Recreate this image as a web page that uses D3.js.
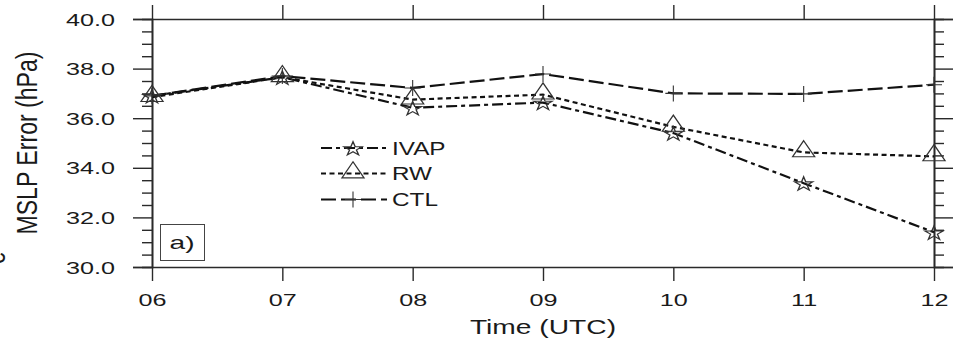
<!DOCTYPE html>
<html>
<head>
<meta charset="utf-8">
<script src="https://cdn.jsdelivr.net/npm/d3@7"></script>
<style>
  body { margin: 0; background: #fff; }
  svg { display: block; font-family: "Liberation Sans", Arial, sans-serif; }
</style>
</head>
<body>
<div id="chart"></div>
<script>
const times = ["06", "07", "08", "09", "10", "11", "12"];
const ivap = [36.9, 37.65, 36.42, 36.63, 35.4, 33.38, 31.4];
const rw = [36.85, 37.65, 36.75, 36.95, 35.65, 34.62, 34.46];
const ctl = [36.9, 37.7, 37.22, 37.78, 37.0, 36.98, 37.35];
const yMajor = [30, 32, 34, 36, 38, 40];
const yMinor = d3.range(30, 40.01, 0.5).filter(v => v % 2 !== 0);

const series = [
    {name: "IVAP", values: ivap, dash: "11,4,4,4", marker: "star"},
    {name: "RW", values: rw, dash: "5,3.5", marker: "triangle"},
    {name: "CTL", values: ctl, dash: "15,5", marker: "plus"}
];

const W = 955, H = 349;
const plot = {left: 152, right: 934, top: 19, bottom: 267};
const stretch = 1.48; // text in the picture is wide

const svg = d3.select("#chart").append("svg")
    .attr("width", W)
    .attr("height", H);

const x = d3.scalePoint().domain(times).range([plot.left, plot.right]);
const y = d3.scaleLinear().domain([30, 40]).range([plot.bottom, plot.top]);

const axisColor = "#2a2a2a";

function styleAxis(g) {
    g.select(".domain").attr("stroke", axisColor).attr("stroke-width", 1.6);
    g.selectAll(".tick line").attr("stroke", axisColor).attr("stroke-width", 1.4);
}

// left axis
svg.append("g")
    .attr("transform", `translate(${plot.left},0)`)
    .call(d3.axisLeft(y).tickValues(yMajor).tickSize(19).tickFormat(d3.format(".1f")))
    .call(styleAxis)
    .call(g => g.selectAll(".tick text")
        .attr("x", null).attr("dy", null)
        .attr("fill", "#1a1a1a")
        .style("font-size", "17px")
        .attr("text-anchor", "end")
        .attr("transform", `translate(-37,6) scale(${stretch},1)`));

svg.append("g")
    .attr("transform", `translate(${plot.left},0)`)
    .call(d3.axisLeft(y).tickValues(yMinor).tickSize(10).tickFormat(""))
    .call(styleAxis);

// right axis
svg.append("g")
    .attr("transform", `translate(${plot.right},0)`)
    .call(d3.axisRight(y).tickValues(yMajor).tickSize(19).tickFormat(""))
    .call(styleAxis);

svg.append("g")
    .attr("transform", `translate(${plot.right},0)`)
    .call(d3.axisRight(y).tickValues(yMinor).tickSize(10).tickFormat(""))
    .call(styleAxis);

// bottom axis
svg.append("g")
    .attr("transform", `translate(0,${plot.bottom})`)
    .call(d3.axisBottom(x).tickSize(14).tickSizeOuter(0))
    .call(styleAxis)
    .call(g => g.selectAll(".tick text")
        .attr("y", null).attr("dy", null)
        .attr("fill", "#1a1a1a")
        .style("font-size", "17px")
        .attr("transform", `translate(0,39) scale(${stretch},1)`));

// top axis
svg.append("g")
    .attr("transform", `translate(0,${plot.top})`)
    .call(d3.axisTop(x).tickSize(14).tickSizeOuter(0).tickFormat(""))
    .call(styleAxis);

// axis titles
svg.append("text")
    .attr("transform", `translate(543,334) scale(1.41,1)`)
    .attr("text-anchor", "middle")
    .style("font-size", "20px")
    .attr("fill", "#1a1a1a")
    .text("Time (UTC)");

svg.append("text")
    .attr("transform", `translate(37,143) rotate(-90) scale(1.05,1.3)`)
    .attr("text-anchor", "middle")
    .style("font-size", "22px")
    .attr("fill", "#1a1a1a")
    .text("MSLP Error (hPa)");

// fragment of a neighbouring label, cut by the left edge
svg.append("text")
    .attr("transform", `translate(5,258) rotate(-90) scale(1,1.3)`)
    .attr("text-anchor", "middle")
    .style("font-size", "22px")
    .attr("fill", "#1a1a1a")
    .text("e");

// markers
function marker(g, type) {
    if (type === "star") {
        g.append("path")
            .attr("d", d3.symbol(d3.symbolStar, 60)())
            .attr("transform", "translate(0,1) scale(1.3,1)");
    } else if (type === "triangle") {
        g.append("path")
            .attr("d", d3.symbol(d3.symbolTriangle, 150)())
            .attr("transform", "translate(0,-1) scale(1.19,1)");
    } else {
        g.append("path").attr("d", "M-8,0H8M0,-8V8");
    }
    g.selectAll("path")
        .attr("fill", "none")
        .attr("stroke", "#333")
        .attr("stroke-width", 1.1);
}

const line = d3.line()
    .x((d, i) => x(times[i]))
    .y(d => y(d));

series.forEach(s => {
    svg.append("path")
        .datum(s.values)
        .attr("fill", "none")
        .attr("stroke", "#111")
        .attr("stroke-width", 2.2)
        .attr("stroke-dasharray", s.dash)
        .attr("d", line);
});

series.forEach(s => {
    svg.selectAll(null)
        .data(s.values)
        .enter().append("g")
        .attr("transform", (d, i) => `translate(${x(times[i])},${y(d)})`)
        .each(function() { marker(d3.select(this), s.marker); });
});

// legend
const legend = svg.append("g");
const legendY = [148, 173.5, 199.5];
series.forEach((s, i) => {
    const row = legend.append("g").attr("transform", `translate(0,${legendY[i]})`);
    row.append("line")
        .attr("x1", 321).attr("x2", 387)
        .attr("stroke", "#111")
        .attr("stroke-width", 2)
        .attr("stroke-dasharray", s.dash);
    const m = row.append("g").attr("transform", "translate(353,0)");
    marker(m, s.marker);
    row.append("text")
        .attr("transform", `translate(392,6.5) scale(1.35,1)`)
        .style("font-size", "18px")
        .attr("fill", "#1a1a1a")
        .text(s.name);
});

// panel label
svg.append("rect")
    .attr("x", 160.5).attr("y", 224.5)
    .attr("width", 44).attr("height", 36)
    .attr("fill", "#fff")
    .attr("stroke", "#444")
    .attr("stroke-width", 1);

svg.append("text")
    .attr("transform", `translate(182,249) scale(${stretch},1)`)
    .attr("text-anchor", "middle")
    .style("font-size", "19px")
    .attr("fill", "#1a1a1a")
    .text("a)");
</script>
</body>
</html>
